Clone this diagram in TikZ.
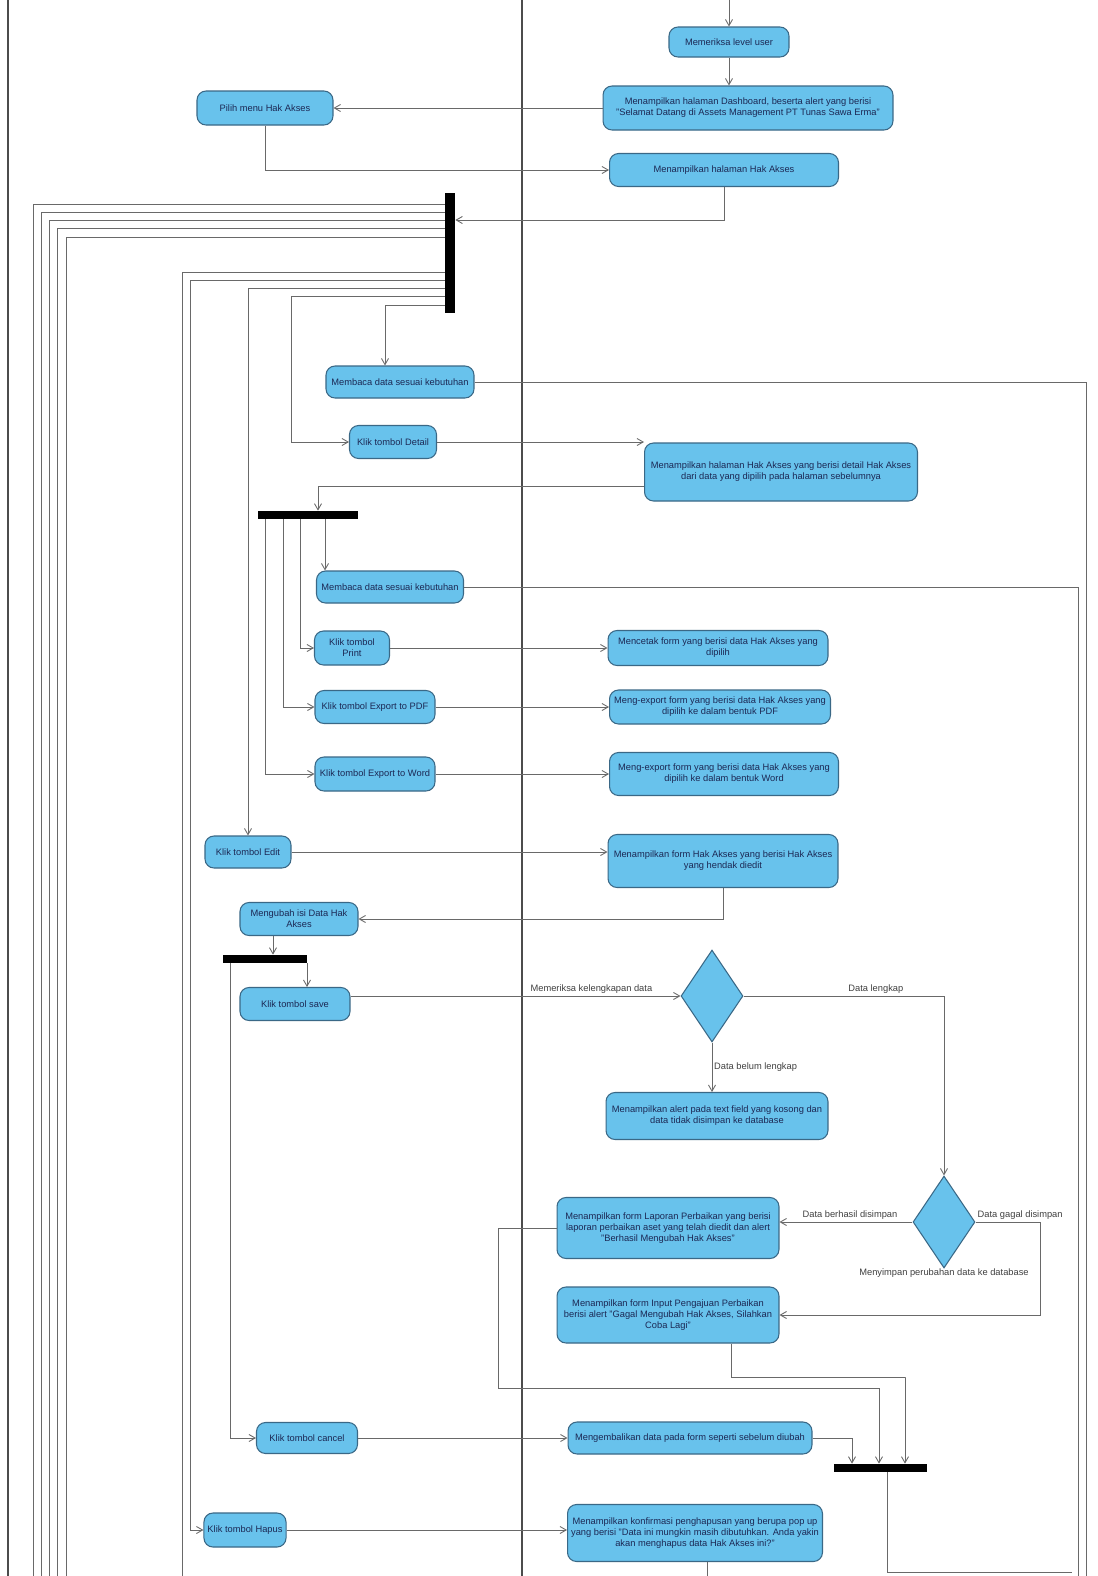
\documentclass[tikz,border=0pt]{standalone}
\usepackage{fontspec}
\setmainfont{Liberation Sans}
\usetikzlibrary{arrows.meta, shapes.geometric}
\definecolor{actfill}{RGB}{104,194,236}
\definecolor{actdraw}{RGB}{58,104,134}
\definecolor{acttext}{RGB}{28,40,84}
\definecolor{flowgray}{RGB}{105,105,105}

\begin{document}
\begin{tikzpicture}[
    x=0.02cm, y=-0.02cm,
    act/.style={draw=actdraw, fill=actfill, rounded corners=0.18cm, text=acttext, align=center,
      inner sep=1pt, font=\fontsize{5.3}{6.3}\selectfont, line width=0.6pt},
    decide/.style={diamond, draw=actdraw, fill=actfill, inner sep=0pt, line width=0.6pt,
      minimum width=1.24cm, minimum height=1.84cm},
    bar/.style={fill=black, inner sep=0pt},
    flow/.style={draw=flowgray, line width=0.5pt, -{Straight Barb[length=3.5pt,width=4pt]}},
    line/.style={draw=flowgray, line width=0.5pt},
    lbl/.style={text=black!75, font=\fontsize{5.3}{6.3}\selectfont, inner sep=1pt},
    lane/.style={draw=black!70, line width=1pt}
  ]
  \useasboundingbox (0,0) rectangle (1098,1576);
  \fill[white] (0,0) rectangle (1098,1576);

  % swimlanes
  \draw[lane] (8,0) -- (8,1576);
  \draw[lane] (522,0) -- (522,1576);

  % right lane
  \node[act, minimum width=2.4cm, minimum height=0.6cm] (memeriksa) at (729,42) {Memeriksa level user};
  \node[act, minimum width=5.8cm, minimum height=0.88cm] (dashboard) at (748,108) {Menampilkan halaman Dashboard, beserta alert yang berisi\\"Selamat Datang di Assets Management PT Tunas Sawa Erma"};
  \node[act, minimum width=4.58cm, minimum height=0.66cm] (halhak) at (724,170) {Menampilkan halaman Hak Akses};
  \node[act, minimum width=5.46cm, minimum height=1.16cm] (haldetail) at (781,472) {Menampilkan halaman Hak Akses yang berisi detail Hak Akses\\dari data yang dipilih pada halaman sebelumnya};
  \node[act, minimum width=4.4cm, minimum height=0.7cm] (cetak) at (718,648) {Mencetak form yang berisi data Hak Akses yang\\dipilih};
  \node[act, minimum width=4.42cm, minimum height=0.68cm] (exppdf) at (720,707) {Meng-export form yang berisi data Hak Akses yang\\dipilih ke dalam bentuk PDF};
  \node[act, minimum width=4.58cm, minimum height=0.86cm] (expword) at (724,774) {Meng-export form yang berisi data Hak Akses yang\\dipilih ke dalam bentuk Word};
  \node[act, minimum width=4.6cm, minimum height=1.06cm] (formedit) at (723,861) {Menampilkan form Hak Akses yang berisi Hak Akses\\yang hendak diedit};
  \node[decide] (cek) at (712,996) {};
  \node[act, minimum width=4.44cm, minimum height=0.94cm] (alert) at (717,1116) {Menampilkan alert pada text field yang kosong dan\\data tidak disimpan ke database};
  \node[decide] (simpan) at (944,1222) {};
  \node[act, minimum width=4.44cm, minimum height=1.22cm] (laporan) at (668,1228) {Menampilkan form Laporan Perbaikan yang berisi\\laporan perbaikan aset yang telah diedit dan alert\\"Berhasil Mengubah Hak Akses"};
  \node[act, minimum width=4.44cm, minimum height=1.12cm] (gagal) at (668,1315) {Menampilkan form Input Pengajuan Perbaikan\\berisi alert "Gagal Mengubah Hak Akses, Silahkan\\Coba Lagi"};
  \node[act, minimum width=4.88cm, minimum height=0.64cm] (kembali) at (690,1438) {Mengembalikan data pada form seperti sebelum diubah};
  \node[bar, minimum width=1.86cm, minimum height=0.16cm] (join) at (880,1468) {};
  \node[act, minimum width=5.1cm, minimum height=1.14cm] (konfirm) at (695,1533) {Menampilkan konfirmasi penghapusan yang berupa pop up\\yang berisi "Data ini mungkin masih dibutuhkan. Anda yakin\\akan menghapus data Hak Akses ini?"};

  % left lane
  \node[act, minimum width=2.72cm, minimum height=0.68cm] (pilihmenu) at (265,108) {Pilih menu Hak Akses};
  \node[bar, minimum width=0.2cm, minimum height=2.4cm] (fork1) at (450,253) {};
  \node[act, minimum width=2.96cm, minimum height=0.64cm] (membaca1) at (400,382) {Membaca data sesuai kebutuhan};
  \node[act, minimum width=1.74cm, minimum height=0.66cm] (detail) at (393,442) {Klik tombol Detail};
  \node[bar, minimum width=2.02cm, minimum height=0.16cm] (fork2) at (308,515) {};
  \node[act, minimum width=2.94cm, minimum height=0.64cm] (membaca2) at (390,587) {Membaca data sesuai kebutuhan};
  \node[act, minimum width=1.5cm, minimum height=0.68cm] (print) at (352,648) {Klik tombol\\Print};
  \node[act, minimum width=2.4cm, minimum height=0.66cm] (pdf) at (375,707) {Klik tombol Export to PDF};
  \node[act, minimum width=2.4cm, minimum height=0.68cm] (word) at (375,774) {Klik tombol Export to Word};
  \node[act, minimum width=1.72cm, minimum height=0.64cm] (edit) at (248,852) {Klik tombol Edit};
  \node[act, minimum width=2.36cm, minimum height=0.66cm] (ubah) at (299,919) {Mengubah isi Data Hak\\Akses};
  \node[bar, minimum width=1.7cm, minimum height=0.16cm] (fork3) at (265,959) {};
  \node[act, minimum width=2.2cm, minimum height=0.66cm] (save) at (295,1004) {Klik tombol save};
  \node[act, minimum width=2.02cm, minimum height=0.62cm] (cancel) at (307,1438) {Klik tombol cancel};
  \node[act, minimum width=1.64cm, minimum height=0.68cm, inner sep=2pt] (hapus) at (245,1530) {Klik tombol Hapus};

  \node[lbl] (simpanlbl) at (944,1273) {Menyimpan perubahan data ke database};

  % connectors
  \coordinate (start) at (729,0);
  \draw[flow] (start) -- (memeriksa);
  \draw[flow] (memeriksa.south) -- (memeriksa.south |- dashboard.north);
  \draw[flow] (dashboard.west) -- (pilihmenu.east);
  \draw[flow] (pilihmenu.south) |- (halhak.west);
  \draw[flow] (halhak.south) |- (fork1.east |- 0,220);

  \foreach \y/\x in {204/33, 212/41, 220/49, 228/57, 237/66, 272/182}
    \draw[line] (fork1.west |- 0,\y) -| (\x,1576);
  \draw[flow] (fork1.west |- 0,280) -| (190,1530) -- (hapus.west);
  \draw[flow] (fork1.west |- 0,288) -| (edit.north);
  \draw[flow] (fork1.west |- 0,296) -| ([xshift=-1.16cm]detail.west) -- (detail.west);
  \draw[flow] (fork1.west |- 0,305) -| ([xshift=-0.3cm]membaca1.north);

  \draw[line] (membaca1.east) -| (1086,1576);
  \draw[flow] (detail.east) -- (detail.east -| haldetail.west);
  \draw[flow] (haldetail.west |- 0,486) -| ([xshift=0.2cm]fork2.north);

  \draw[flow] ([xshift=0.34cm]fork2.south) -- ([xshift=0.34cm]fork2.south |- membaca2.north);
  \draw[flow] ([xshift=-0.16cm]fork2.south) |- (print.west);
  \draw[flow] ([xshift=-0.5cm]fork2.south) |- (pdf.west);
  \draw[flow] ([xshift=-0.86cm]fork2.south) |- (word.west);
  \draw[line] (membaca2.east) -| (1078,1576);
  \draw[flow] (print) -- (cetak);
  \draw[flow] (pdf) -- (exppdf);
  \draw[flow] (word) -- (expword);

  \draw[flow] (edit) -- (edit -| formedit.west);
  \draw[flow] (formedit.south) |- (ubah.east);
  \draw[flow] ([xshift=-0.52cm]ubah.south) -- ([xshift=-0.52cm]ubah.south |- fork3.north);
  \draw[flow] ([xshift=0.84cm]fork3.south) -- ([xshift=0.84cm]fork3.south |- save.north);
  \draw[flow] ([xshift=-0.7cm]fork3.south) |- (cancel.west);

  \draw[flow] (save.east |- cek.west) -- (cek.west)
    node[lbl, pos=0.73, above] {Memeriksa kelengkapan data};
  \draw[flow] (cek.east) -| (simpan.north)
    node[lbl, pos=0.33, above] {Data lengkap};
  \draw[flow] (cek.south) -- (cek.south |- alert.north)
    node[lbl, pos=0.5, right] {Data belum lengkap};
  \draw[flow] (simpan.west) -- (simpan.west -| laporan.east)
    node[lbl, pos=0.47, above] {Data berhasil disimpan};
  \draw[flow] (simpan.east) node[lbl, above right] {Data gagal disimpan}
    -| ([xshift=1.3cm]simpan.east |- gagal.east) -- (gagal.east);

  \draw[flow] (laporan.west) -| (498,1388) -| ([xshift=-0.02cm]join.north);
  \draw[flow] ([xshift=1.26cm]gagal.south) |- (905,1377) -| ([xshift=0.5cm]join.north);
  \draw[flow] (kembali.east) -| ([xshift=-0.56cm]join.north);
  \draw[line] ([xshift=0.14cm]join.south) |- (1072,1572);

  \draw[flow] (cancel) -- (cancel -| kembali.west);
  \draw[flow] (hapus) -- (hapus -| konfirm.west);
  \draw[line] ([xshift=0.24cm]konfirm.south) -- ([xshift=0.24cm]konfirm.south |- 0,1576);

\end{tikzpicture}
\end{document}
